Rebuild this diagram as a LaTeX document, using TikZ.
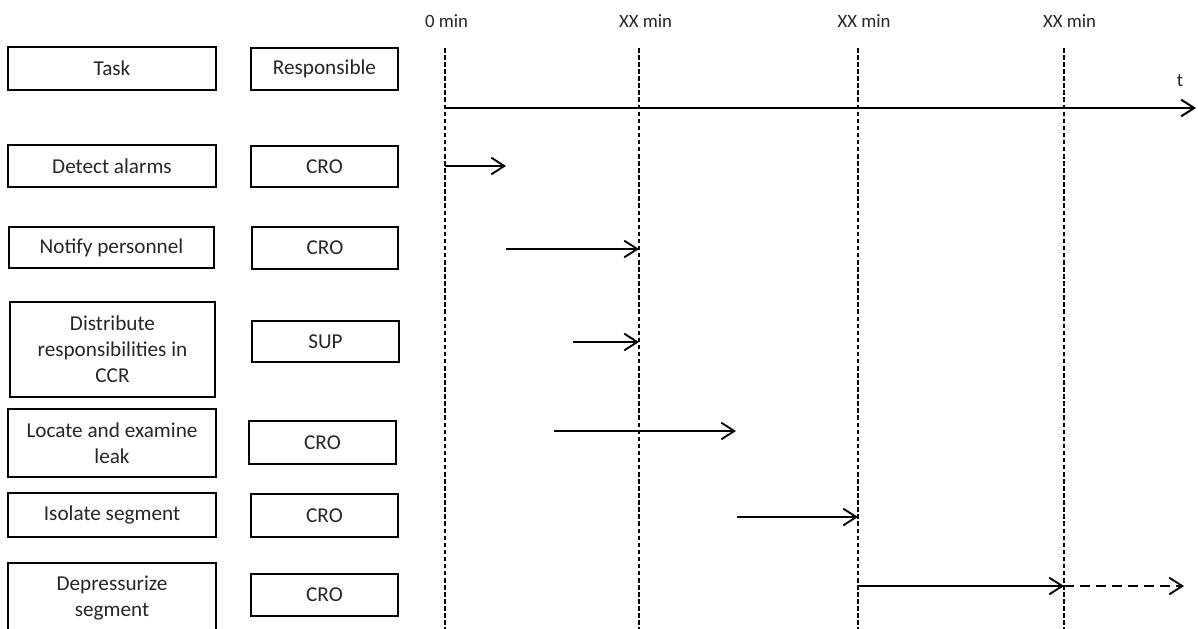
\documentclass[tikz,border=0pt]{standalone}
\usepackage{fontspec}
\setmainfont{Carlito}
\usetikzlibrary{arrows.meta}
\begin{document}
\begin{tikzpicture}[x=0.75pt,y=-0.75pt,
  box/.style={draw, line width=1.4pt, align=center, inner sep=0pt, text=black!85,
    font=\fontsize{15.9pt}{19.5pt}\selectfont},
  tlabel/.style={anchor=base, inner sep=0pt, text=black!85, font=\fontsize{14.1pt}{17pt}\selectfont},
  guide/.style={line width=1.2pt, dash pattern=on 3.4pt off 1.9pt},
  tip/.style={-{Straight Barb[length=9.75pt,width=12.5pt,line width=1.4pt]}},
  act/.style={tip, line width=1.3pt},
  axis/.style={-{Straight Barb[length=9.75pt,width=12.5pt,line width=1.5pt]}, line width=1.6pt},
  later/.style={tip, line width=1.3pt, dash pattern=on 7.5pt off 4.5pt}
]
\useasboundingbox (0,0) rectangle (1198,628);
% task boxes
\node[box, minimum width=156pt, minimum height=32.25pt] (task) at (112,68.5) {Task};
\node[box, minimum width=110.25pt, minimum height=31.5pt] (resp) at (324.5,69) {Responsible};
\node[box, minimum width=156pt, minimum height=31.5pt] (detect) at (112,166) {Detect alarms};
\node[box, minimum width=110.25pt, minimum height=30.75pt] (cro1) at (324.5,166.5) {CRO};
\node[box, minimum width=153.75pt, minimum height=30.75pt] (notify) at (111.5,247.5) {Notify personnel};
\node[box, minimum width=109.5pt, minimum height=31.5pt] (cro2) at (325,248) {CRO};
\node[box, minimum width=153.75pt, minimum height=71.25pt] (distr) at (112.5,349.5) {Distribute\\responsibilities in\\CCR};
\node[box, minimum width=110.25pt, minimum height=30.75pt] (sup) at (325.5,341.5) {SUP};
\node[box, minimum width=156pt, minimum height=51pt] (locate) at (112,443) {Locate and examine\\leak};
\node[box, minimum width=110.25pt, minimum height=32.25pt] (cro3) at (322.5,442.5) {CRO};
\node[box, minimum width=156pt, minimum height=33pt] (isolate) at (112,515) {Isolate segment};
\node[box, minimum width=110.25pt, minimum height=32.25pt] (cro4) at (324.5,515.5) {CRO};
\node[box, minimum width=156pt, minimum height=52.5pt] (depress) at (112,598) {Depressurize\\segment};
\node[box, minimum width=110.25pt, minimum height=31.5pt] (cro5) at (324.5,595) {CRO};
% time labels
\node[tlabel] (l0) at (446.5,27) {0 min};
\node[tlabel] (l1) at (645.5,27) {XX min};
\node[tlabel] (l2) at (864,27) {XX min};
\node[tlabel] (l3) at (1069.5,27) {XX min};
\node[tlabel] (tl) at (1180,86) {t};
% guide lines
\coordinate (g0t) at (445,48); \coordinate (g0b) at (445,630);
\coordinate (g1t) at (639,48); \coordinate (g1b) at (639,630);
\coordinate (g2t) at (858,48); \coordinate (g2b) at (858,630);
\coordinate (g3t) at (1064,48); \coordinate (g3b) at (1064,630);
\draw[guide] (g0t) -- (g0b);
\draw[guide] (g1t) -- (g1b);
\draw[guide] (g2t) -- (g2b);
\draw[guide] (g3t) -- (g3b);
% time axis
\coordinate (ax0) at (445,108); \coordinate (ax1) at (1196,108);
\draw[axis] (ax0) -- (ax1);
% activity arrows
\coordinate (a1s) at (445,166); \coordinate (a1e) at (506,166);
\coordinate (a2s) at (506,249); \coordinate (a2e) at (639,249);
\coordinate (a3s) at (573,342); \coordinate (a3e) at (639,342);
\coordinate (a4s) at (554,431); \coordinate (a4e) at (736,431);
\coordinate (a5s) at (737,517); \coordinate (a5e) at (858,517);
\coordinate (a6s) at (858,586); \coordinate (a6e) at (1064,586);
\coordinate (a7e) at (1184,586);
\draw[act] (a1s) -- (a1e);
\draw[act] (a2s) -- (a2e);
\draw[act] (a3s) -- (a3e);
\draw[act] (a4s) -- (a4e);
\draw[act] (a5s) -- (a5e);
\draw[act] (a6s) -- (a6e);
\draw[later] (a6e) -- (a7e);
\end{tikzpicture}
\end{document}
